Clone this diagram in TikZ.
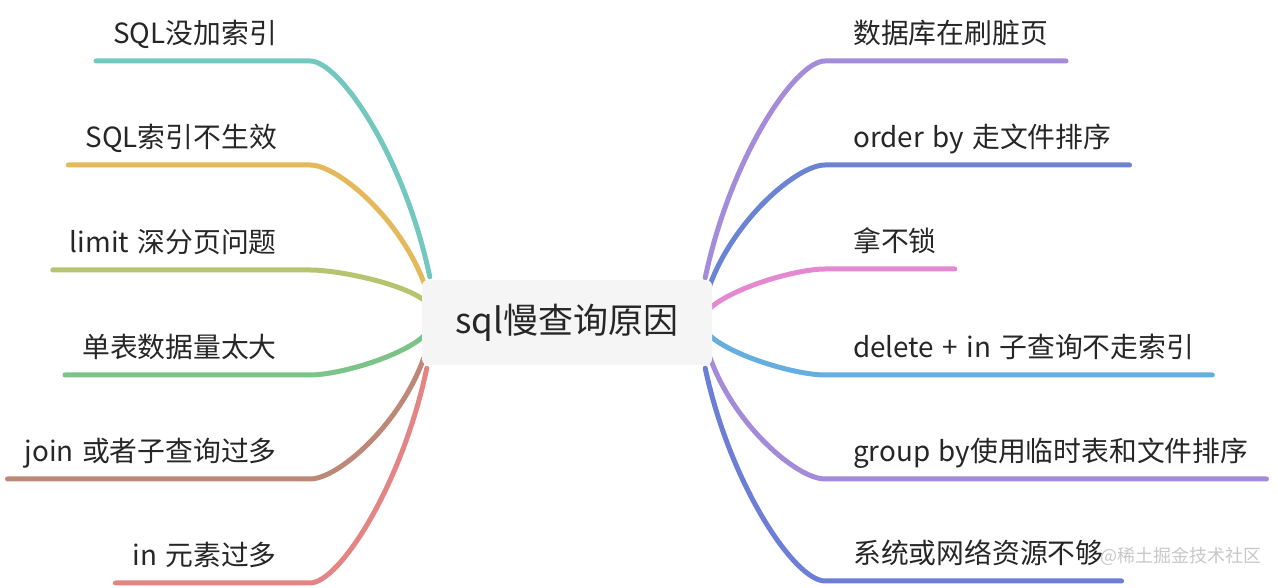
\documentclass[tikz,border=0pt]{standalone}
\usepackage{fontspec}
\setmainfont[WordSpace=1.35]{Noto Sans CJK SC}
\usepackage{tikz}
\usetikzlibrary{calc, backgrounds}
\definecolor{MM_Teal}{HTML}{72C7BF}
\definecolor{MM_Gold}{HTML}{E3B95B}
\definecolor{MM_Olive}{HTML}{B6C46F}
\definecolor{MM_Green}{HTML}{7CC38A}
\definecolor{MM_Brown}{HTML}{BE8878}
\definecolor{MM_Red}{HTML}{E48585}
\definecolor{MM_Lav}{HTML}{A48CDB}
\definecolor{MM_Blue}{HTML}{6B83D3}
\definecolor{MM_Pink}{HTML}{E488D2}
\definecolor{MM_Sky}{HTML}{67AEE0}
\definecolor{MM_Violet}{HTML}{A38BDA}
\definecolor{MM_Indigo}{HTML}{6C7ED6}
\definecolor{MM_Root}{HTML}{F5F5F5}
\definecolor{MM_Text}{HTML}{262626}
\definecolor{MM_Mark}{HTML}{C8C8C8}

\begin{document}
\begin{tikzpicture}[x=1pt, y=1pt,
    rootbox/.style={fill=MM_Root, rounded corners=6pt, minimum width=290pt, minimum height=85pt, inner sep=0pt, text=MM_Text, font=\fontsize{35}{42}\selectfont},
    leafL/.style={anchor=base east, inner sep=0pt, text=MM_Text, font=\fontsize{27.8}{33}\selectfont},
    leafR/.style={anchor=base west, inner sep=0pt, text=MM_Text, font=\fontsize{27.8}{33}\selectfont},
    twig/.style={line width=5pt, line cap=round, line join=round}]
    \useasboundingbox (0,0) rectangle (1278,588);

    % ===== Central topic =====
    \node[rootbox] (root) at (567,265.5) {sql慢查询原因};

    % ===== Left topics =====
    \node[leafL] (noidx) at (277,544) {SQL没加索引};
    \node[leafL] (idxfail) at (277,440) {SQL索引不生效};
    \node[leafL] (limitpg) at (277,335) {limit 深分页问题};
    \node[leafL] (bigtbl) at (277,230) {单表数据量太大};
    \node[leafL] (joinsub) at (277,126) {join 或者子查询过多};
    \node[leafL] (inmany) at (277,22) {in 元素过多};

    % ===== Right topics =====
    \node[leafR] (dirty) at (853,544) {数据库在刷脏页};
    \node[leafR] (orderby) at (853,440) {order by 走文件排序};
    \node[leafR] (nolock) at (853,336) {拿不锁};
    \node[leafR] (delin) at (853,230) {delete + in 子查询不走索引};
    \node[leafR] (groupby) at (853,126) {group by使用临时表和文件排序};
    \node[leafR] (sysres) at (853,24) {系统或网络资源不够};

    % Watermark
    \node[anchor=base east, inner sep=0pt, text=MM_Mark, font=\fontsize{18}{22}\selectfont] (wm) at (1262,25) {@稀土掘金技术社区};

    % ===== Branches (behind the central box) =====
    \begin{pgfonlayer}{background}
        % left side
        \draw[twig, MM_Teal] ($(root.north west)+(8,3)$) .. controls +(-25,119) and +(30,0) .. ($(noidx.base east)+(33,-17)$) -- ($(noidx.base west)+(-17,-17)$);
        \draw[twig, MM_Gold] ($(root.west)+(3,37.5)$) .. controls +(-24,66) and +(28,0) .. ($(idxfail.base east)+(33,-17)$) -- ($(idxfail.base west)+(-17,-17)$);
        \draw[twig, MM_Olive] ($(root.west)+(2,22.5)$) .. controls +(-23,17) and +(28,0) .. ($(limitpg.base east)+(33,-17)$) -- ($(limitpg.base west)+(-17,-17)$);
        \draw[twig, MM_Green] ($(root.west)+(2,-13.5)$) .. controls +(-23,-21) and +(28,0) .. ($(bigtbl.base east)+(33,-17)$) -- ($(bigtbl.base west)+(-17,-17)$);
        \draw[twig, MM_Brown] ($(root.west)+(2,-35.5)$) .. controls +(-24,-67) and +(28,0) .. ($(joinsub.base east)+(33,-17)$) -- ($(joinsub.base west)+(-17,-17)$);
        \draw[twig, MM_Red] ($(root.south west)+(5,-3)$) .. controls +(-25,-118) and +(29,0) .. ($(inmany.base east)+(33,-17)$) -- ($(inmany.base west)+(-17,-17)$);

        % right side
        \draw[twig, MM_Lav] ($(root.north east)+(-7,2)$) .. controls +(25,119) and +(-30,0) .. ($(dirty.base west)+(-28,-17)$) -- ($(dirty.base east)+(18,-17)$);
        \draw[twig, MM_Blue] ($(root.east)+(-3,35.5)$) .. controls +(24,67) and +(-28,0) .. ($(orderby.base west)+(-28,-17)$) -- ($(orderby.base east)+(18,-17)$);
        \draw[twig, MM_Pink] ($(root.east)+(-2,14.5)$) .. controls +(24,21) and +(-28,0) .. ($(nolock.base west)+(-28,-17)$) -- ($(nolock.base east)+(18,-17)$);
        \draw[twig, MM_Sky] ($(root.east)+(-2,-13.5)$) .. controls +(24,-21) and +(-28,0) .. ($(delin.base west)+(-28,-17)$) -- ($(delin.base east)+(18,-17)$);
        \draw[twig, MM_Violet] ($(root.east)+(-2,-35.5)$) .. controls +(24,-67) and +(-28,0) .. ($(groupby.base west)+(-28,-17)$) -- ($(groupby.base east)+(18,-17)$);
        \draw[twig, MM_Indigo] ($(root.south east)+(-7,-3)$) .. controls +(25,-117) and +(-30,0) .. ($(sysres.base west)+(-28,-17)$) -- ($(sysres.base east)+(18,-17)$);
    \end{pgfonlayer}
\end{tikzpicture}
\end{document}
